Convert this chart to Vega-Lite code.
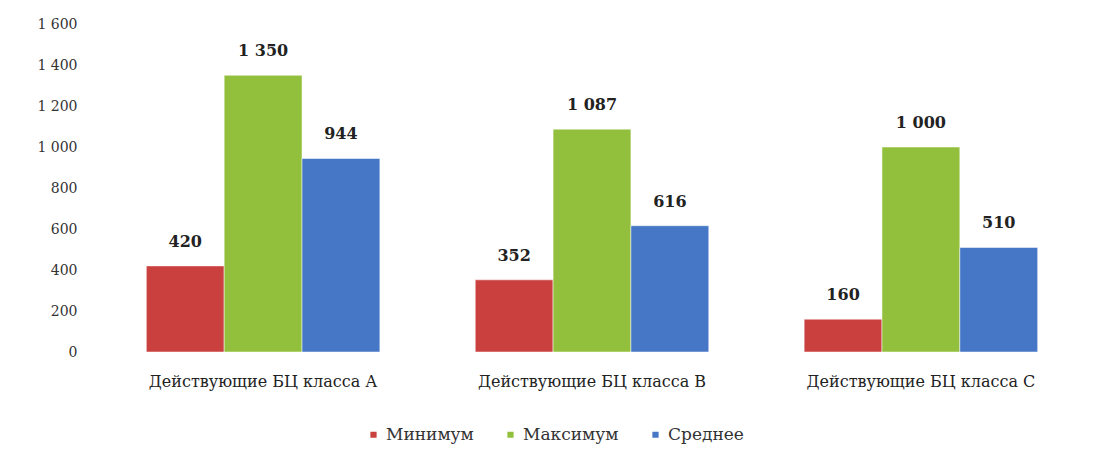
{
  "$schema": "https://vega.github.io/schema/vega-lite/v6.json",
  "width": 990,
  "height": 328,
  "autosize": "none",
  "padding": {"left": 97, "top": 24, "right": 26, "bottom": 103},
  "background": "white",
  "config": {
    "view": {"stroke": null},
    "font": "DejaVu Serif",
    "axis": {"labelFont": "DejaVu Serif"},
    "legend": {"labelFont": "DejaVu Serif"},
    "locale": {"number": {"decimal": ",", "thousands": " ", "grouping": [3], "currency": ["", " ₽"]}}
  },
  "data": {
    "values": [
      {"cat": "Действующие БЦ класса А", "series": "Минимум", "value": 420},
      {"cat": "Действующие БЦ класса А", "series": "Максимум", "value": 1350},
      {"cat": "Действующие БЦ класса А", "series": "Среднее", "value": 944},
      {"cat": "Действующие БЦ класса В", "series": "Минимум", "value": 352},
      {"cat": "Действующие БЦ класса В", "series": "Максимум", "value": 1087},
      {"cat": "Действующие БЦ класса В", "series": "Среднее", "value": 616},
      {"cat": "Действующие БЦ класса С", "series": "Минимум", "value": 160},
      {"cat": "Действующие БЦ класса С", "series": "Максимум", "value": 1000},
      {"cat": "Действующие БЦ класса С", "series": "Среднее", "value": 510}
    ]
  },
  "encoding": {
    "x": {
      "field": "cat", "type": "nominal", "sort": null, "title": null,
      "scale": {"paddingInner": 0.29, "paddingOuter": 0.15},
      "axis": {"labelAngle": 0, "domain": false, "ticks": false, "labelFontSize": 16, "labelColor": "#222", "labelPadding": 21, "labelLimit": 0}
    },
    "xOffset": {"field": "series", "type": "nominal", "sort": ["Минимум", "Максимум", "Среднее"]},
    "y": {
      "field": "value", "type": "quantitative", "title": null,
      "scale": {"domain": [0, 1600], "nice": false},
      "axis": {"values": [0, 200, 400, 600, 800, 1000, 1200, 1400, 1600], "format": ",.0f", "grid": false, "domain": false, "ticks": false, "labelPadding": 20, "labelFontSize": 14, "labelColor": "#333"}
    }
  },
  "layer": [
    {
      "mark": {"type": "bar", "stroke": "#ffffff", "strokeWidth": 0.5},
      "encoding": {
        "color": {
          "field": "series", "type": "nominal",
          "sort": ["Минимум", "Максимум", "Среднее"],
          "scale": {"domain": ["Минимум", "Максимум", "Среднее"], "range": ["#C9403F", "#93C03C", "#4577C6"]},
          "legend": {"orient": "none", "legendX": 268, "legendY": 402, "direction": "horizontal", "title": null, "symbolType": "square", "symbolSize": 60, "labelFontSize": 17, "labelColor": "#333", "columnPadding": 28, "symbolOffset": 0, "labelOffset": 4, "labelLimit": 0}
        }
      }
    },
    {
      "mark": {"type": "text", "dy": -24, "fontSize": 16, "fontWeight": "bold", "font": "DejaVu Serif", "color": "#222"},
      "encoding": {
        "text": {"field": "value", "type": "quantitative", "format": ",.0f"},
        "detail": {"field": "series"}
      }
    }
  ]
}
